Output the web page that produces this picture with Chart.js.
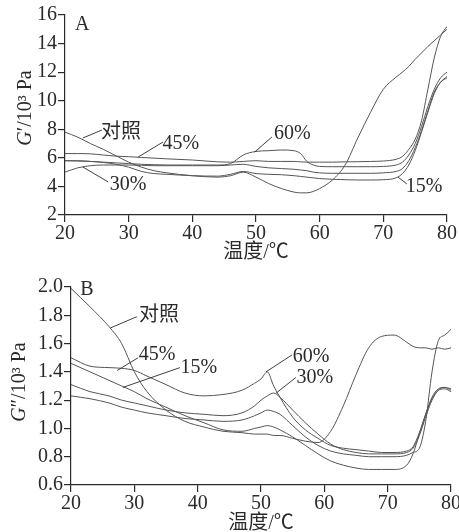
<!DOCTYPE html>
<html lang="zh">
<head>
<meta charset="UTF-8">
<meta name="viewport" content="width=device-width, initial-scale=1.0">
<title>G′ / G″ 温度曲线</title>
<script src="https://cdn.jsdelivr.net/npm/chart.js@4.4.1/dist/chart.umd.min.js"></script>
<style>
    body { margin: 0; background: #fff; overflow: hidden; }
    .panel { position: absolute; left: 0; width: 459px; }
    #panelA { top: 0; height: 265px; }
    #panelB { top: 262px; height: 274px; }
</style>
</head>
<body>
<div class="panel" id="panelA"><canvas id="chartA"></canvas></div>
<div class="panel" id="panelB"><canvas id="chartB"></canvas></div>

<script>
// ---- panel A : G' (10^3 Pa) ----
const tempsA = [20, 22, 24, 26, 28, 30, 32, 34, 36, 40, 44, 46, 48, 50, 52, 54, 56, 57, 58, 59,
                60, 62, 64, 66, 68, 70, 72, 73, 74, 75, 76, 77, 78, 79, 80];
const controlA = [7.8, 7.45, 7.0, 6.6, 6.15, 5.7, 5.35, 5.1, 4.95, 4.75, 4.65, 4.75, 5.0, 4.65, 4.2, 3.85, 3.6, 3.55, 3.55, 3.65,
                  3.85, 4.45, 5.5, 7.4, 9.2, 10.8, 11.65, 12.0, 12.4, 12.9, 13.35, 13.8, 14.2, 14.6, 15.0];
const p15A = [5.8, 5.78, 5.75, 5.68, 5.55, 5.35, 5.05, 4.9, 4.85, 4.75, 4.72, 4.85, 5.05, 4.9, 4.85, 4.82, 4.75, 4.7, 4.65, 4.6,
              4.55, 4.5, 4.47, 4.45, 4.45, 4.47, 4.6, 4.9, 5.5, 6.5, 7.8, 9.2, 10.5, 11.3, 11.6];
const p30A = [5.0, 5.3, 5.45, 5.5, 5.5, 5.5, 5.48, 5.45, 5.45, 5.45, 5.45, 5.5, 5.55, 5.4, 5.3, 5.25, 5.2, 5.15, 5.1, 5.0,
              4.95, 4.92, 4.92, 4.92, 4.92, 4.95, 5.05, 5.25, 5.8, 6.7, 7.9, 9.3, 10.6, 11.3, 11.7];
const p45A = [6.3, 6.3, 6.28, 6.2, 6.12, 6.08, 6.03, 5.98, 5.93, 5.85, 5.72, 5.7, 5.75, 5.8, 5.75, 5.75, 5.75, 5.72, 5.7, 5.7,
              5.7, 5.7, 5.72, 5.73, 5.75, 5.78, 5.9, 6.1, 6.6, 7.3, 8.6, 10.8, 13.0, 14.5, 15.2];
const p60A = [5.8, 5.8, 5.75, 5.7, 5.65, 5.6, 5.55, 5.52, 5.5, 5.5, 5.5, 5.6, 6.2, 6.45, 6.5, 6.55, 6.5, 6.3, 5.75, 5.5,
              5.4, 5.38, 5.38, 5.38, 5.38, 5.4, 5.5, 5.7, 6.2, 7.0, 8.2, 9.6, 10.8, 11.6, 12.0];

// ---- panel B : G'' (10^3 Pa) ----
const tempsB = [20, 23, 26, 28, 30, 32, 35, 38, 41, 44, 47, 49, 50, 51, 52, 53, 55, 57, 59, 61,
                63, 65, 67, 69, 71, 73, 74, 75, 76, 77, 78, 79, 80];
const controlB = [1.99, 1.86, 1.72, 1.6, 1.4, 1.26, 1.13, 1.05, 1.01, 0.98, 0.97, 0.96, 0.96, 0.96, 0.95, 0.95, 0.93, 0.91, 0.9, 0.98,
                  1.16, 1.38, 1.57, 1.65, 1.66, 1.61, 1.58, 1.57, 1.57, 1.56, 1.57, 1.56, 1.57];
const p15B = [1.46, 1.4, 1.34, 1.3, 1.26, 1.21, 1.15, 1.09, 1.04, 0.99, 0.98, 1.0, 1.01, 1.02, 1.01, 0.99, 0.94, 0.88, 0.82, 0.77,
              0.74, 0.72, 0.71, 0.71, 0.71, 0.74, 0.82, 0.96, 1.1, 1.21, 1.27, 1.28, 1.26];
const p30B = [1.31, 1.26, 1.23, 1.2, 1.18, 1.16, 1.13, 1.11, 1.1, 1.09, 1.11, 1.16, 1.2, 1.23, 1.25, 1.22, 1.13, 1.04, 0.96, 0.89,
              0.85, 0.83, 0.82, 0.82, 0.82, 0.83, 0.86, 0.95, 1.08, 1.2, 1.27, 1.29, 1.28];
const p45B = [1.5, 1.44, 1.43, 1.425, 1.41, 1.37, 1.31, 1.25, 1.23, 1.24, 1.27, 1.32, 1.35, 1.4, 1.3, 1.22, 1.08, 0.99, 0.93, 0.88,
              0.86, 0.85, 0.84, 0.83, 0.83, 0.84, 0.87, 0.97, 1.1, 1.22, 1.28, 1.29, 1.27];
const p60B = [1.23, 1.21, 1.18, 1.15, 1.13, 1.11, 1.09, 1.07, 1.06, 1.05, 1.06, 1.09, 1.11, 1.13, 1.12, 1.1, 1.02, 0.94, 0.88, 0.84,
              0.82, 0.81, 0.8, 0.8, 0.8, 0.81, 0.83, 0.86, 1.05, 1.4, 1.62, 1.66, 1.7];

// curve labels: text position and leader line, in data units
const labelsA = [
    { text: '对照', at: [28.8, 7.74], from: [22.8, 7.39], to: [25.8, 7.95] },
    { text: '45%', at: [38.2, 6.97], from: [31.5, 6.06], to: [35.4, 7.11] },
    { text: '30%', at: [29.9, 4.10], from: [22.8, 5.36], to: [26.8, 4.31] },
    { text: '60%', at: [55.7, 7.67], from: [49.8, 6.41], to: [52.5, 7.46] },
    { text: '15%', at: [76.4, 3.96], from: [72.3, 4.66], to: [73.7, 4.17] }
];
const labelsB = [
    { text: '对照', at: [33.9, 1.795], from: [26.2, 1.71], to: [30.4, 1.79] },
    { text: '45%', at: [33.6, 1.52], from: [27.3, 1.41], to: [30.6, 1.50] },
    { text: '15%', at: [40.2, 1.43], from: [28.2, 1.29], to: [37.2, 1.43] },
    { text: '60%', at: [57.9, 1.51], from: [50.8, 1.40], to: [54.9, 1.52] },
    { text: '30%', at: [58.5, 1.36], from: [52.4, 1.25], to: [55.5, 1.36] }
];

const SERIF = '"Liberation Serif", "Noto Sans CJK SC", serif';
const FS = 20;
const INK = '#2a2a2a';
const LINE = '#555';

function points(temps, vals) {
    return temps.map((t, i) => ({ x: t, y: vals[i] }));
}

function series(temps, vals) {
    return {
        data: points(temps, vals),
        borderColor: LINE,
        borderWidth: 1,
        pointRadius: 0,
        fill: false,
        cubicInterpolationMode: 'monotone'
    };
}

// draws the curve labels, panel letter and the y title with italic G
const annotate = {
    id: 'annotate',
    afterDraw(chart, args, opts) {
        const ctx = chart.ctx;
        const xs = chart.scales.x, ys = chart.scales.y;
        const px = p => [xs.getPixelForValue(p[0]), ys.getPixelForValue(p[1])];
        const plain = FS + 'px ' + SERIF;
        const italic = 'italic ' + plain;
        ctx.save();
        ctx.fillStyle = INK;
        ctx.strokeStyle = INK;
        ctx.lineWidth = 0.9;
        ctx.font = plain;
        ctx.textAlign = 'center';
        ctx.textBaseline = 'middle';
        opts.labels.forEach(l => {
            const a = px(l.from), b = px(l.to), c = px(l.at);
            ctx.beginPath();
            ctx.moveTo(a[0], a[1]);
            ctx.lineTo(b[0], b[1]);
            ctx.stroke();
            ctx.fillText(l.text, c[0], c[1]);
        });
        const lp = px(opts.letterAt);
        ctx.fillText(opts.letter, lp[0], lp[1]);

        // rotated y title
        const area = chart.chartArea;
        ctx.translate(opts.titleX, (area.top + area.bottom) / 2 + opts.titleDy);
        ctx.rotate(-Math.PI / 2);
        ctx.textAlign = 'left';
        const rest = opts.prime + '/10³ Pa';
        ctx.font = italic;
        const wG = ctx.measureText('G').width;
        ctx.font = plain;
        const wR = ctx.measureText(rest).width;
        const x0 = -(wG + wR) / 2;
        ctx.font = italic;
        ctx.fillText('G', x0, 0);
        ctx.font = plain;
        ctx.fillText(rest, x0 + wG, 0);
        ctx.restore();
    }
};

function axisFit(w, h) {
    return function (scale) {
        if (w !== null) scale.width = w;
        if (h !== null) scale.height = h;
        scale.paddingLeft = 0;
        scale.paddingRight = 0;
        scale.paddingTop = 0;
        scale.paddingBottom = 0;
    };
}

function makeChart(id, temps, list, yCfg, pad, yWidth, xHeight, ann) {
    new Chart(document.getElementById(id), {
        type: 'line',
        data: { datasets: list.map(v => series(temps, v)) },
        options: {
            responsive: true,
            maintainAspectRatio: false,
            animation: false,
            layout: { padding: pad },
            plugins: {
                legend: { display: false },
                tooltip: { enabled: false },
                annotate: ann
            },
            scales: {
                x: {
                    type: 'linear',
                    min: 20, max: 80,
                    border: { color: INK, width: 1.2 },
                    grid: { drawOnChartArea: false, color: INK, lineWidth: 1.2, tickLength: 7 },
                    ticks: { stepSize: 10, color: INK, padding: 0, font: { family: SERIF, size: FS }, maxRotation: 0 },
                    title: { display: true, text: '温度/℃', color: INK, padding: { top: 0, bottom: 0 },
                             font: { family: SERIF, size: FS } },
                    afterFit: axisFit(null, xHeight)
                },
                y: {
                    min: yCfg.min, max: yCfg.max,
                    border: { color: INK, width: 1.2 },
                    grid: { drawOnChartArea: false, color: INK, lineWidth: 1.2, tickLength: 7 },
                    ticks: { stepSize: yCfg.step, autoSkip: false, color: INK, padding: 1,
                             font: { family: SERIF, size: FS },
                             callback: yCfg.fmt },
                    afterFit: axisFit(yWidth, null)
                }
            }
        },
        plugins: [annotate]
    });
}

makeChart('chartA', tempsA, [controlA, p15A, p30A, p45A, p60A],
    { min: 2, max: 16, step: 2, fmt: v => v.toString() },
    { top: 15, right: 12, left: 0, bottom: 0 }, 65, 50,
    { labels: labelsA, letter: 'A', letterAt: [22.7, 15.3], prime: '′', titleX: 26, titleDy: -7 });

makeChart('chartB', tempsB, [controlB, p15B, p30B, p45B, p60B],
    { min: 0.6, max: 2.0, step: 0.2, fmt: v => v.toFixed(1) },
    { top: 25, right: 8, left: 0, bottom: 0 }, 71, 51,
    { labels: labelsB, letter: 'B', letterAt: [22.5, 1.98], prime: '″', titleX: 20, titleDy: -4 });
</script>
</body>
</html>
